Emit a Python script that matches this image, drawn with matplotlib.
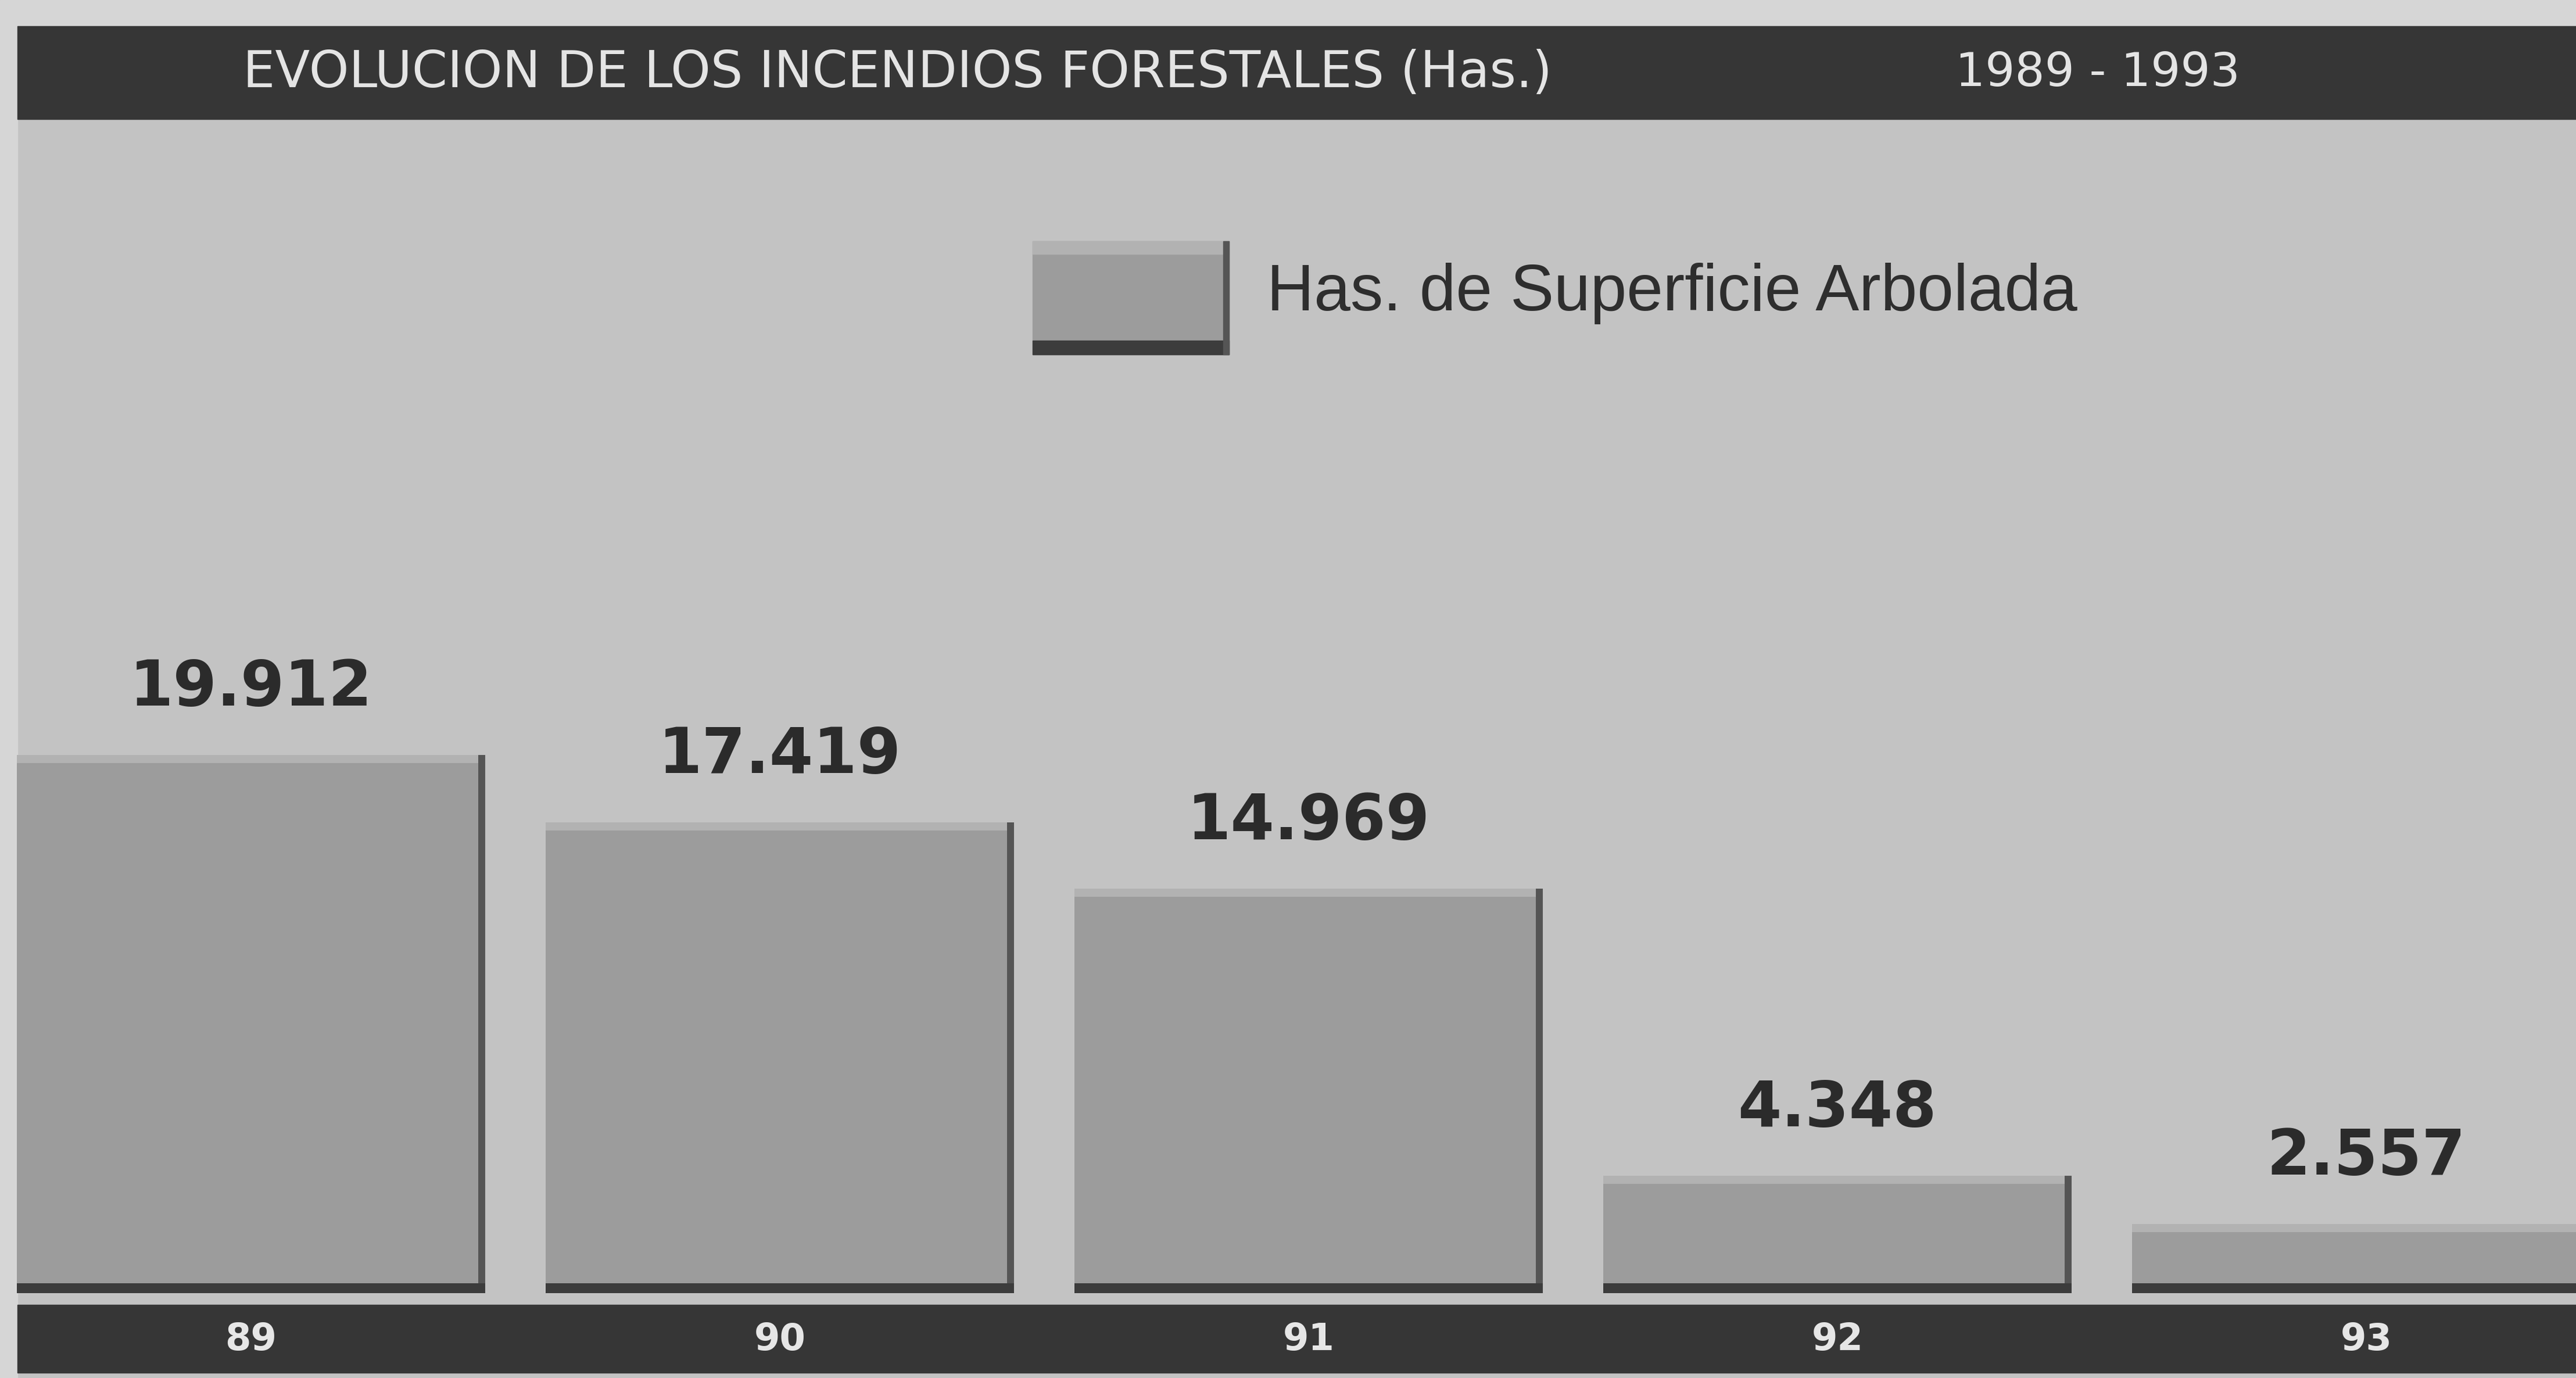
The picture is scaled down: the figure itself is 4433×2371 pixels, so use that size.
import matplotlib.pyplot as plt
from matplotlib.patches import Rectangle
from matplotlib.transforms import blended_transform_factory

# data
years = ['89', '90', '91', '92', '93']
hectares = [19912, 17419, 14969, 4348, 2557]
value_labels = ['19.912', '17.419', '14.969', '4.348', '2.557']
title_text = 'EVOLUCION DE LOS INCENDIOS FORESTALES (Has.)'
title_years = '1989 - 1993'
legend_text = 'Has. de Superficie Arbolada'

W, H = 4433, 2371
BG = '#c3c3c3'
PAPER = '#d6d6d6'
DARK = '#363636'
BAR = '#9c9c9c'
BAR_TOP = '#b2b2b2'
BAR_EDGE = '#3c3c3c'


def fx(px):
    return px / W


def fy(px):
    # pixel measured from the top -> figure fraction
    return 1 - px / H


fig = plt.figure(figsize=(W / 100, H / 100), dpi=100)
fig.patch.set_facecolor(BG)

# light paper strip above the title band and down the left edge
fig.add_artist(Rectangle((0, fy(45)), 1, 45 / H, transform=fig.transFigure,
                         color=PAPER, zorder=0))
fig.add_artist(Rectangle((0, 0), fx(30), 1, transform=fig.transFigure,
                         color=PAPER, zorder=0))

# title band
fig.add_artist(Rectangle((fx(30), fy(205)), 1, (205 - 45) / H,
                         transform=fig.transFigure, color=DARK, zorder=1))
fig.text(fx(418), fy(126), title_text, color='#e4e4e4', fontsize=63,
         family='DejaVu Sans', ha='left', va='center', zorder=2)
fig.text(fx(3365), fy(126), title_years, color='#e4e4e4', fontsize=58,
         family='DejaVu Sans', ha='left', va='center', zorder=2)

# legend swatch drawn as a small 3D block, same look as the bars
lx0, lx1, ly0, ly1 = 1777, 2115, 415, 610
fig.add_artist(Rectangle((fx(lx0), fy(ly1)), fx(lx1 - lx0), (ly1 - ly0) / H,
                         transform=fig.transFigure, color=BAR, zorder=1))
fig.add_artist(Rectangle((fx(lx0), fy(ly0 + 22)), fx(lx1 - lx0), 22 / H,
                         transform=fig.transFigure, color=BAR_TOP, zorder=2))
fig.add_artist(Rectangle((fx(lx0), fy(ly1)), fx(lx1 - lx0), 24 / H,
                         transform=fig.transFigure, color=BAR_EDGE, zorder=2))
fig.add_artist(Rectangle((fx(lx1 - 10), fy(ly1)), fx(10), (ly1 - ly0) / H,
                         transform=fig.transFigure, color='#555555', zorder=2))
fig.text(fx(2180), fy(505), legend_text, color='#2e2e2e', fontsize=81,
         family='Liberation Sans', ha='left', va='center')

# dark category band along the bottom
fig.add_artist(Rectangle((fx(30), fy(2362)), 1, (2362 - 2245) / H,
                         transform=fig.transFigure, color=DARK, zorder=1))

# bars
base_px, top_px = 2225, 300
ymax = 41400
ax = fig.add_axes([0, fy(base_px), 1, (base_px - top_px) / H])
ax.set_zorder(5)
ax.set_facecolor('none')
ax.set_xlim(-0.4747, 4.397)
ax.set_ylim(0, ymax)
ax.axis('off')

px_per_unit = (base_px - top_px) / ymax
x = list(range(len(years)))
width = 0.886
strip = 17 / px_per_unit
hl = 14 / px_per_unit
edge_w = 12 / 910

ax.bar(x, hectares, width=width, color=BAR, zorder=2)
ax.bar(x, [hl] * len(x), bottom=[v - hl for v in hectares], width=width,
       color=BAR_TOP, zorder=3)
ax.bar([i + width / 2 - edge_w / 2 for i in x], hectares, width=edge_w,
       color='#555555', zorder=4)
ax.bar(x, [strip] * len(x), width=width, color=BAR_EDGE, zorder=4)

for i, v, lab in zip(x, hectares, value_labels):
    ax.annotate(lab, (i, v), xytext=(0, 61), textcoords='offset points',
                ha='center', va='baseline', fontsize=78, fontweight='bold',
                family='DejaVu Sans', color='#2b2b2b', annotation_clip=False)

# year labels sit in the dark band, aligned with the bars
trans = blended_transform_factory(ax.transData, fig.transFigure)
for i, yr in zip(x, years):
    ax.text(i, fy(2305), yr, transform=trans, ha='center', va='center',
            fontsize=46, fontweight='bold', family='DejaVu Sans',
            color='#e6e6e6', clip_on=False)

fig.savefig('out.png', dpi=100, facecolor=fig.get_facecolor())
